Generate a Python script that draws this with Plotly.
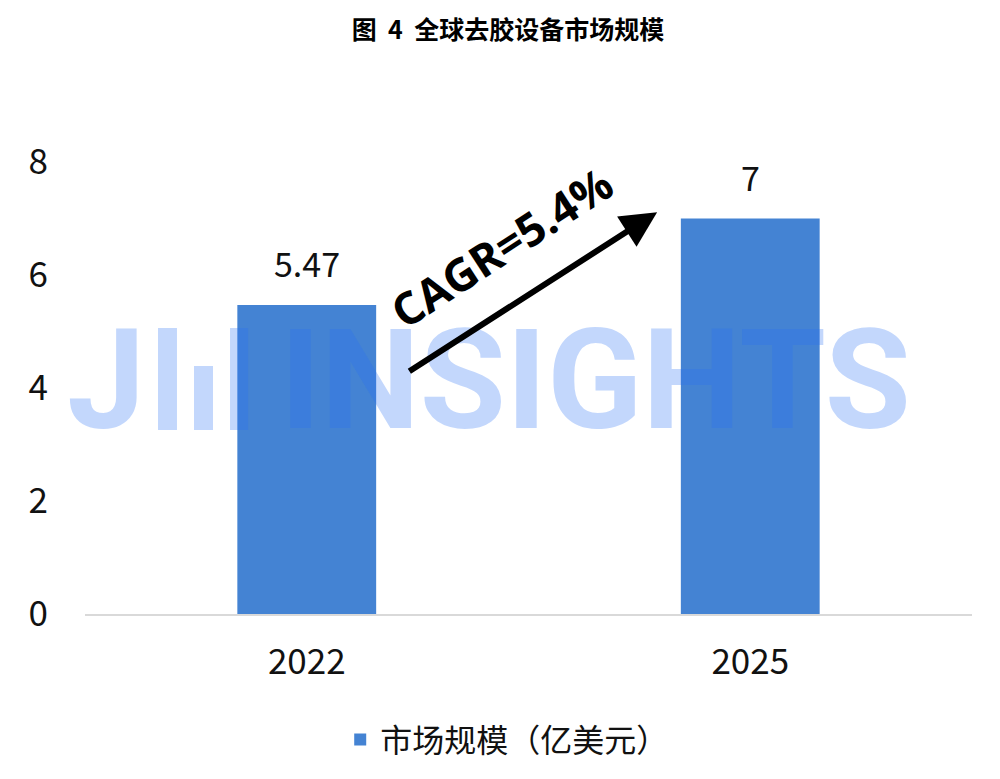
import plotly.graph_objs as go

# market size data (亿美元)
years = ['2022', '2025']
market_size = [5.47, 7]
value_labels = ['5.47', '7']
y_ticks = [0, 2, 4, 6, 8]

title_text = '<b>图&nbsp;&nbsp;4&nbsp;&nbsp;全球去胶设备市场规模</b>'
legend_name = '市场规模（亿美元）'
cagr_text = '<b>CAGR=5.4%</b>'

cjk_font = 'Noto Sans CJK SC'
bar_color = '#4483D3'
wm_color = 'rgba(40,110,245,0.28)'

trace_bar = go.Bar(
    x=years,
    y=market_size,
    name=legend_name,
    marker=dict(color=bar_color, line=dict(width=0)),
)

layout = go.Layout(
    width=1000,
    height=779,
    margin=dict(l=77, r=36, t=154, b=173),
    paper_bgcolor='white',
    plot_bgcolor='white',
    font=dict(family=cjk_font, color='#111111'),
    title=dict(
        text=title_text,
        x=0.5,
        xanchor='center',
        y=0.972,
        yanchor='middle',
        font=dict(family=cjk_font, size=25, color='black'),
    ),
    bargap=0.687,
    showlegend=True,
    legend=dict(
        orientation='h',
        x=0.476,
        xanchor='center',
        y=-0.217,
        yanchor='top',
        font=dict(family=cjk_font, size=32, color='#111111'),
    ),
    xaxis=dict(
        type='category',
        range=[-0.5, 1.5],
        autorange=False,
        automargin=False,
        showgrid=False,
        showline=True,
        linecolor='#D9D9D9',
        linewidth=2,
        ticks='',
        tickfont=dict(family=cjk_font, size=35, color='#111111'),
        ticklabelstandoff=16,
    ),
    yaxis=dict(
        automargin=False,
        range=[0, 8],
        autorange=False,
        tickvals=y_ticks,
        showgrid=False,
        zeroline=False,
        showline=False,
        ticks='',
        tickfont=dict(family=cjk_font, size=35, color='#111111'),
        ticklabelstandoff=36,
    ),
)

fig = go.Figure(data=[trace_bar], layout=layout)

# value labels above bars (category index positions)
for i, (val, lab) in enumerate(zip(market_size, value_labels)):
    fig.add_annotation(
        x=i, y=val, text=lab,
        xref='x', yref='y',
        yanchor='bottom', yshift=16,
        showarrow=False,
        font=dict(family=cjk_font, size=34, color='#111111'),
    )

# watermark logo "J" + three bars, then INSIGHTS, drawn over the bars
fig.add_annotation(
    text='J',
    xref='paper', yref='paper',
    x=0.07, y=0.518,
    xanchor='right', yanchor='middle',
    showarrow=False,
    font=dict(family='Roboto', size=140, color=wm_color, weight=700),
)
for x0, x1, top in [(0.0823, 0.1037, 0.6327), (0.1229, 0.1443, 0.5487), (0.1635, 0.1838, 0.6327)]:
    fig.add_shape(
        type='rect', xref='paper', yref='paper',
        x0=x0, x1=x1, y0=0.4071, y1=top,
        fillcolor=wm_color, line=dict(width=0), layer='above',
    )
fig.add_annotation(
    text='INSIGHTS',
    xref='paper', yref='paper',
    x=0.575, y=0.518,
    xanchor='center', yanchor='middle',
    showarrow=False,
    font=dict(family='Roboto', size=140, color=wm_color, weight=700),
)

# growth arrow and CAGR label
fig.add_annotation(
    x=0.79, y=7.11,
    ax=0.228, ay=4.28,
    xref='x', yref='y', axref='x', ayref='y',
    text='',
    showarrow=True,
    arrowhead=2,
    arrowsize=1.2,
    arrowwidth=6,
    arrowcolor='black',
)
fig.add_annotation(
    text=cagr_text,
    xref='x', yref='y',
    x=0.44, y=6.5,
    showarrow=False,
    textangle=-33,
    font=dict(family='Open Sans', size=45, color='black'),
)

fig.write_html('out.html')
